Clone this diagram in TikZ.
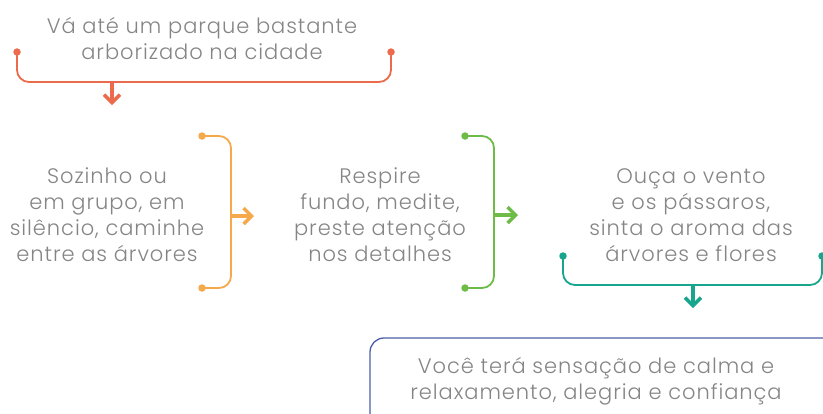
\documentclass[tikz,border=0pt]{standalone}
\usepackage{fontspec}
\setmainfont{Poppins}[UprightFont=* Light, LetterSpace=4.5]
\usetikzlibrary{arrows.meta}
\definecolor{txt}{HTML}{858585}
\definecolor{cred}{HTML}{EB6B4C}
\definecolor{cora}{HTML}{F6A94C}
\definecolor{cgrn}{HTML}{6DBC47}
\definecolor{ctea}{HTML}{17A58E}
\definecolor{cblu}{HTML}{4A5EA8}
\tikzset{
  lbl/.style={text=txt, align=center, font=\fontsize{21}{26}\selectfont, inner sep=0pt},
  brk/.style={line width=1.8pt, rounded corners=12pt},
  dot/.style={circle, fill, inner sep=0pt, minimum size=7.5pt},
  arr/.style={line width=3.5pt, -{Straight Barb[length=8pt,width=16pt,line width=3.5pt]}},
}
\begin{document}
\begin{tikzpicture}[x=1pt,y=-1pt]
\useasboundingbox (0,0) rectangle (823,413);
\clip (0,0) rectangle (823,413);
% top
\node[lbl] (t1) at (202,38) {Vá até um parque bastante\\arborizado na cidade};
\node[dot, cred] (r1) at (17,52) {};
\node[dot, cred] (r2) at (391,52) {};
\coordinate (rm) at (112,82);
\coordinate (re) at (112,105);
\draw[brk, cred] (r1.center) -- (17,82) -- (391,82) -- (r2.center);
\draw[arr, cred] (rm) -- (re);
% orange
\node[lbl] (t2) at (107,215) {Sozinho ou\\em grupo, em\\silêncio, caminhe\\entre as árvores};
\node[dot, cora] (o1) at (202,136) {};
\node[dot, cora] (o2) at (202,288) {};
\coordinate (om) at (231,216);
\coordinate (oe) at (254,216);
\draw[brk, cora] (o1.center) -- (231,136) -- (231,288) -- (o2.center);
\draw[arr, cora] (om) -- (oe);
% green
\node[lbl] (t3) at (380,215) {Respire\\fundo, medite,\\preste atenção\\nos detalhes};
\node[dot, cgrn] (g1) at (465,136) {};
\node[dot, cgrn] (g2) at (465,288) {};
\coordinate (gm) at (494,215);
\coordinate (ge) at (518,215);
\draw[brk, cgrn] (g1.center) -- (494,136) -- (494,288) -- (g2.center);
\draw[arr, cgrn] (gm) -- (ge);
% teal
\node[lbl] (t4) at (691,215) {Ouça o vento\\e os pássaros,\\sinta o aroma das\\árvores e flores};
\node[dot, ctea] (c1) at (563,256) {};
\node[dot, ctea] (c2) at (822,256) {};
\coordinate (cm) at (693,285);
\coordinate (ce) at (693,308);
\draw[brk, ctea] (c1.center) -- (563,285) -- (822,285) -- (c2.center);
\draw[arr, ctea] (cm) -- (ce);
% final box
\draw[line width=1.3pt, cblu, rounded corners=14pt] (370,430) -- (370,338) -- (840,338) -- (840,430);
\node[lbl] (t5) at (596,381) {Você terá sensação de calma e\\relaxamento, alegria e confiança};
\end{tikzpicture}
\end{document}
